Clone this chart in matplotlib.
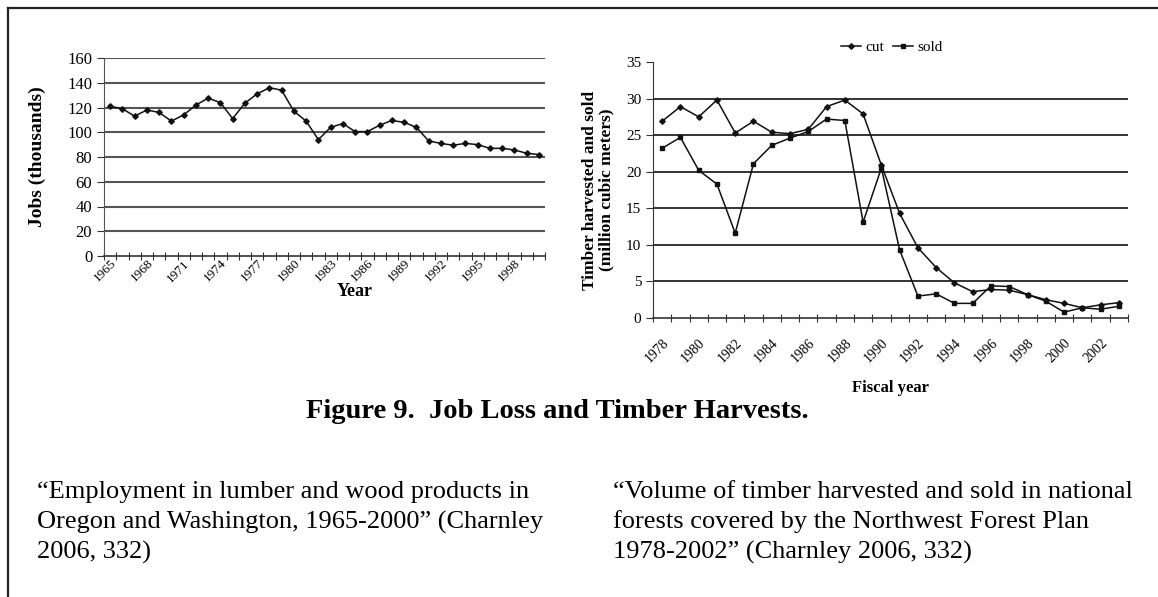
import matplotlib
matplotlib.use("Agg")
import matplotlib.pyplot as plt
from matplotlib.lines import Line2D
from matplotlib.transforms import ScaledTranslation
import numpy as np

plt.rcParams['font.family'] = ['Liberation Serif', 'DejaVu Serif']

# ---------------- data ----------------
job_years = list(range(1965, 2001))
jobs = [121, 119, 113, 118, 116, 109, 114, 122, 127.5, 124, 111, 123.5,
        131, 136, 134, 117, 109, 94, 104, 107, 100.5, 100.5, 105.7, 109.5,
        108, 104, 93, 91, 89.5, 91, 90, 87, 87, 85.7, 83, 82]
job_tick_labels = [str(y) for y in range(1965, 2000, 3)]

fy_years = list(range(1978, 2004))
cut = [26.9, 28.9, 27.5, 29.8, 25.3, 26.9, 25.4, 25.2, 25.8, 28.9, 29.8, 27.9,
       20.9, 14.3, 9.6, 6.9, 4.8, 3.6, 3.9, 3.8, 3.2, 2.5, 2.0, 1.4, 1.8, 2.1]
sold = [23.2, 24.7, 20.2, 18.3, 11.6, 21.1, 23.6, 24.6, 25.5, 27.2, 27.0, 13.1,
        20.5, 9.3, 3.0, 3.3, 2.0, 2.0, 4.4, 4.3, 3.2, 2.3, 0.8, 1.4, 1.2, 1.6]
fy_tick_labels = [str(y) for y in range(1978, 2003, 2)]

caption = "Figure 9.  Job Loss and Timber Harvests."
left_note = ["\u201cEmployment in lumber and wood products in",
             "Oregon and Washington, 1965-2000\u201d (Charnley",
             "2006, 332)"]
right_note = ["\u201cVolume of timber harvested and sold in national",
              "forests covered by the Northwest Forest Plan",
              "1978-2002\u201d (Charnley 2006, 332)"]

# ---------------- figure ----------------
W, H = 1158, 597
fig = plt.figure(figsize=(W / 100, H / 100), dpi=100)

def fx(px):
    return px / W

def fy(py):
    return 1 - py / H

def shift_labels(labels, dx_px, dy_px):
    off = ScaledTranslation(dx_px / 100, -dy_px / 100, fig.dpi_scale_trans)
    for lab in labels:
        lab.set_transform(lab.get_transform() + off)

# frame lines
fig.add_artist(Line2D([fx(8), fx(8)], [fy(8), fy(600)], color='#222222', lw=1.6))
fig.add_artist(Line2D([fx(8), fx(1160)], [fy(8), fy(8)], color='#222222', lw=1.6))

line_kw = dict(color='#111111', lw=1.1)

# ---------------- left chart ----------------
ax1 = fig.add_axes([fx(104), fy(256), fx(545) - fx(104), fy(58) - fy(256)])
n1 = len(job_years)
x1 = np.arange(n1)
ax1.plot(x1, jobs, marker='D', ms=2.8, **line_kw)
ax1.set_xlim(-0.5, n1 - 0.5)
ax1.set_ylim(0, 160)
ax1.set_yticks(np.arange(0, 161, 20))
for v in range(20, 161, 20):
    ax1.axhline(v, color='#555555', lw=1.5, zorder=0)
ax1.set_xticks(np.arange(-0.5, n1, 1.0))
ax1.set_xticklabels([])
lab_idx = [job_years.index(int(s)) for s in job_tick_labels]
ax1.set_xticks(lab_idx, minor=True)
labs1 = ax1.set_xticklabels(job_tick_labels, minor=True, rotation=45, ha='right',
                            rotation_mode='anchor', fontsize=9.5)
shift_labels(labs1, -9, 0)
ax1.tick_params(axis='x', which='major', direction='inout', length=6, width=0.8,
                color='#333333')
ax1.tick_params(axis='x', which='minor', length=0, pad=1)
ax1.tick_params(axis='y', direction='out', length=5, width=0.8, labelsize=12,
                color='#333333')
for s in ['top', 'right']:
    ax1.spines[s].set_visible(False)
ax1.spines['left'].set_color('#555555')
ax1.spines['bottom'].set_color('#333333')
ax1.spines['bottom'].set_linewidth(1.2)
ax1.set_ylabel('Jobs (thousands)', fontsize=14, fontweight='bold', labelpad=15)
fig.text(fx(355), fy(291), 'Year', fontsize=13, fontweight='bold',
         ha='center', va='center')

# ---------------- right chart ----------------
ax2 = fig.add_axes([fx(653), fy(318), fx(1128) - fx(653), fy(62) - fy(318)])
n2 = len(fy_years)
x2 = np.arange(n2)
ax2.plot(x2, cut, marker='D', ms=2.8, label='cut', **line_kw)
ax2.plot(x2, sold, marker='s', ms=2.8, label='sold', **line_kw)
ax2.set_xlim(-0.5, n2 - 0.5)
ax2.set_ylim(0, 35)
ax2.set_yticks(np.arange(0, 36, 5))
for v in range(5, 31, 5):
    ax2.axhline(v, color='#333333', lw=1.4, zorder=0)
ax2.set_xticks(np.arange(-0.5, n2, 1.0))
ax2.set_xticklabels([])
lab_idx2 = [fy_years.index(int(s)) for s in fy_tick_labels]
ax2.set_xticks(lab_idx2, minor=True)
labs2 = ax2.set_xticklabels(fy_tick_labels, minor=True, rotation=45, ha='right',
                            rotation_mode='anchor', fontsize=10)
shift_labels(labs2, -3, 0)
ax2.tick_params(axis='x', which='major', direction='inout', length=6, width=0.8,
                color='#333333')
ax2.tick_params(axis='x', which='minor', length=0, pad=13)
ax2.tick_params(axis='y', direction='out', length=5, width=0.8, labelsize=11,
                color='#333333')
for s in ['top', 'right']:
    ax2.spines[s].set_visible(False)
ax2.spines['left'].set_color('#333333')
ax2.spines['bottom'].set_color('#333333')
ax2.spines['bottom'].set_linewidth(1.2)
ax2.set_ylabel('Timber harvested and sold\n(million cubic meters)', fontsize=12.5,
               fontweight='bold', labelpad=8, linespacing=1.1)
fig.text(fx(890), fy(388), 'Fiscal year', fontsize=12, fontweight='bold',
         ha='center', va='center')
ax2.legend(loc='center', bbox_to_anchor=(fx(892), fy(47)),
           bbox_transform=fig.transFigure, ncol=2, frameon=False, fontsize=11,
           handlelength=1.3, handletextpad=0.3, columnspacing=0.6)

# ---------------- captions ----------------
fig.text(fx(557), fy(412), caption, fontsize=20.5, fontweight='bold',
         ha='center', va='center')
for i, (l, r) in enumerate(zip(left_note, right_note)):
    yy = 492 + 30 * i
    fig.text(fx(37), fy(yy), l, fontsize=19, ha='left', va='center')
    fig.text(fx(613), fy(yy), r, fontsize=19, ha='left', va='center')

fig.savefig('out.png', dpi=100)
